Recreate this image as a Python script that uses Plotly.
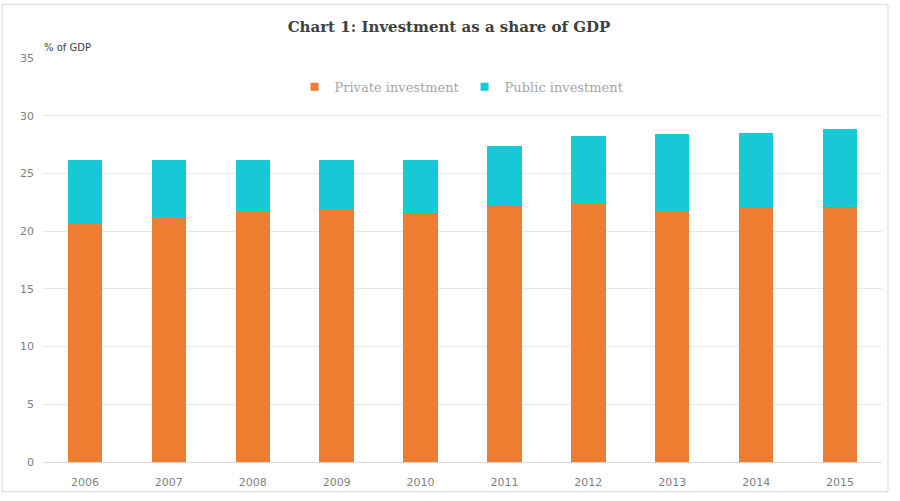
import plotly.graph_objects as go

years = ["2006", "2007", "2008", "2009", "2010", "2011", "2012", "2013", "2014", "2015"]
private_inv = [20.6, 21.1, 21.75, 21.95, 21.55, 22.2, 22.45, 21.7, 22.0, 22.1]
public_inv = [5.55, 5.05, 4.4, 4.2, 4.65, 5.2, 5.75, 6.7, 6.5, 6.75]
y_ticks = [0, 5, 10, 15, 20, 25, 30, 35]

W, H = 900, 501
L, R, T, B = 43, 18, 58, 36
pw, ph = W - L - R, H - T - B

PRIV_C = "#ED7D31"
PUB_C = "#17C8D5"

fig = go.Figure()
fig.add_trace(go.Bar(x=years, y=private_inv, name="Private investment", showlegend=False,
                     marker=dict(color=PRIV_C, line=dict(width=0))))
fig.add_trace(go.Bar(x=years, y=public_inv, name="Public investment", showlegend=False,
                     marker=dict(color=PUB_C, line=dict(width=0))))
# legend entries with small square swatches
for nm, c in [("Private investment", PRIV_C), ("Public investment", PUB_C)]:
    fig.add_trace(go.Scatter(x=[None], y=[None], mode="markers", name=nm,
                             marker=dict(symbol="square", size=8, color=c)))

fig.update_layout(
    width=W, height=H,
    barmode="stack", bargap=0.59,
    margin=dict(l=L, r=R, t=T, b=B),
    paper_bgcolor="white", plot_bgcolor="white",
    title=dict(text="<b>Chart 1: Investment as a share of GDP</b>",
               x=(449 - 0) / W, xanchor="center", y=1 - 27 / H, yanchor="middle",
               font=dict(family="DejaVu Serif", size=15, color="#404040")),
    xaxis=dict(showgrid=False, showline=True, linecolor="#D9D9D9", linewidth=1,
               ticks="", tickfont=dict(family="DejaVu Sans", size=11, color="#7F7F7F"),
               ticklabelstandoff=10),
    yaxis=dict(range=[0, 35], tickvals=y_ticks, showgrid=True, gridcolor="#E8E8E8",
               gridwidth=1, zeroline=False, showline=False, ticks="",
               tickfont=dict(family="DejaVu Sans", size=11, color="#7F7F7F"),
               ticklabelstandoff=8),
    legend=dict(orientation="h", x=(462 - L) / pw, xanchor="center",
                y=(H - B - 87) / ph, yanchor="middle",
                font=dict(family="DejaVu Serif", size=13, color="#A6A6A6"),
                bgcolor="rgba(0,0,0,0)", itemwidth=30, traceorder="normal"),
    showlegend=True,
)

fig.add_annotation(text="% of GDP", xref="paper", yref="paper",
                   x=-1 / pw, y=(H - B - 47) / ph, xanchor="left", yanchor="middle",
                   showarrow=False,
                   font=dict(family="DejaVu Sans", size=10, color="#404040"))

# chart border
fig.add_shape(type="rect", xref="paper", yref="paper",
              x0=(2 - L) / pw, x1=(W - 12 - L) / pw,
              y0=(H - B - (H - 6)) / ph, y1=(H - B - 4) / ph,
              line=dict(color="#D9D9D9", width=1), fillcolor="rgba(0,0,0,0)", layer="below")

fig.write_html("out.html")
